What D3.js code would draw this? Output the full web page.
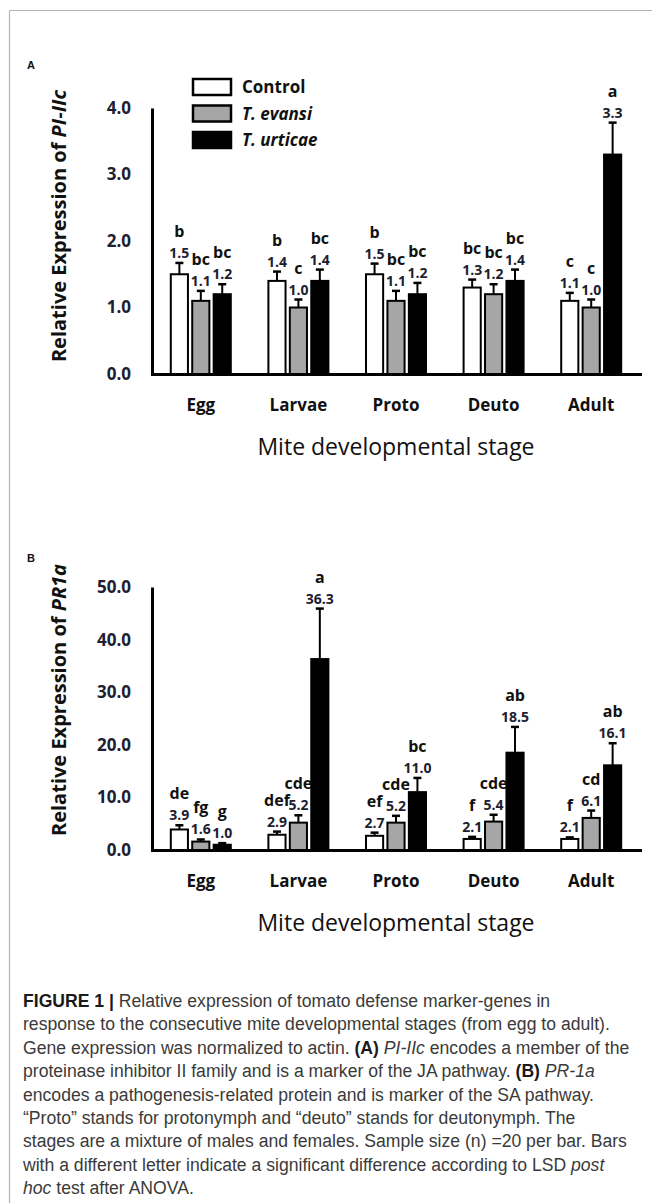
<!DOCTYPE html>
<html>
<head>
<meta charset="utf-8">
<script src="https://cdn.jsdelivr.net/npm/d3@7"></script>
<style>
  body { margin: 0; background: #fff; }
  svg { display: block; }
</style>
</head>
<body>
<svg id="fig" width="652" height="1203"></svg>
<script>
// categories + series
const stages = ["Egg", "Larvae", "Proto", "Deuto", "Adult"];
const treatments = ["Control", "T. evansi", "T. urticae"];
const treatmentFill = ["#ffffff", "#a6a6a6", "#000000"];

// panel A : PI-IIc
const piControl = [1.5, 1.4, 1.5, 1.3, 1.1];
const piEvansi  = [1.1, 1.0, 1.1, 1.2, 1.0];
const piUrticae = [1.2, 1.4, 1.2, 1.4, 3.3];
const piControlErr = [0.17, 0.14, 0.16, 0.12, 0.12];
const piEvansiErr  = [0.15, 0.12, 0.15, 0.15, 0.12];
const piUrticaeErr = [0.15, 0.17, 0.17, 0.17, 0.48];
const piControlLetters = ["b", "b", "b", "bc", "c"];
const piEvansiLetters  = ["bc", "c", "bc", "bc", "c"];
const piUrticaeLetters = ["bc", "bc", "bc", "bc", "a"];
const piTicks = [0, 1, 2, 3, 4];

// panel B : PR1a
const prControl = [3.9, 2.9, 2.7, 2.1, 2.1];
const prEvansi  = [1.6, 5.2, 5.2, 5.4, 6.1];
const prUrticae = [1.0, 36.3, 11.0, 18.5, 16.1];
const prControlErr = [0.8, 0.6, 0.6, 0.4, 0.3];
const prEvansiErr  = [0.4, 1.4, 1.3, 1.3, 1.4];
const prUrticaeErr = [0.3, 9.6, 2.7, 4.9, 4.2];
const prControlLetters = ["de", "def", "ef", "f", "f"];
const prEvansiLetters  = ["fg", "cde", "cde", "cde", "cd"];
const prUrticaeLetters = ["g", "a", "bc", "ab", "ab"];
const prTicks = [0, 10, 20, 30, 40, 50];

const captionLines = [
  [["FIGURE 1 | ", "b"], ["Relative expression of tomato defense marker-genes in", ""]],
  [["response to the consecutive mite developmental stages (from egg to adult).", ""]],
  [["Gene expression was normalized to actin. ", ""], ["(A) ", "b"], ["PI-IIc", "i"], [" encodes a member of the", ""]],
  [["proteinase inhibitor II family and is a marker of the JA pathway. ", ""], ["(B) ", "b"], ["PR-1a", "i"]],
  [["encodes a pathogenesis-related protein and is marker of the SA pathway.", ""]],
  [["\u201cProto\u201d stands for protonymph and \u201cdeuto\u201d stands for deutonymph. The", ""]],
  [["stages are a mixture of males and females. Sample size (n) =20 per bar. Bars", ""]],
  [["with a different letter indicate a significant difference according to LSD ", ""], ["post", "i"]],
  [["hoc", "i"], [" test after ANOVA.", ""]]
];

const chartFont = "'Open Sans', 'DejaVu Sans', sans-serif";
const svg = d3.select("#fig");

// grey frame
svg.append("line").attr("x1", 9.5).attr("x2", 652).attr("y1", 10.5).attr("y2", 10.5)
  .attr("stroke", "#b4b4b4").attr("stroke-width", 1.2);
svg.append("line").attr("x1", 9.5).attr("x2", 9.5).attr("y1", 10.5).attr("y2", 1203)
  .attr("stroke", "#b4b4b4").attr("stroke-width", 1.2);

function drawPanel(cfg) {
  const g = svg.append("g").style("font-family", chartFont);
  const x = d3.scaleBand().domain(stages).range([152, 640]);
  const inner = d3.scaleBand().domain(treatments).range([0, 60]).paddingInner(0.2);
  const off = (x.bandwidth() - 60) / 2;
  const y = d3.scaleLinear().domain(cfg.domain).range([cfg.base, cfg.top]);

  const rows = [];
  stages.forEach((s, i) => {
    treatments.forEach((t, j) => {
      rows.push({ stage: s, tr: t, k: j, v: cfg.vals[j][i], e: cfg.errs[j][i], l: cfg.lets[j][i] });
    });
  });
  const bx = d => x(d.stage) + off + inner(d.tr);
  const bw = inner.bandwidth();

  // error bars
  g.selectAll("line.err").data(rows).join("line").attr("class", "err")
    .attr("x1", d => bx(d) + bw / 2).attr("x2", d => bx(d) + bw / 2)
    .attr("y1", d => y(d.v)).attr("y2", d => y(d.v + d.e))
    .attr("stroke", "#000").attr("stroke-width", 2);
  g.selectAll("line.cap").data(rows).join("line").attr("class", "cap")
    .attr("x1", d => bx(d) + bw / 2 - 4).attr("x2", d => bx(d) + bw / 2 + 4)
    .attr("y1", d => y(d.v + d.e)).attr("y2", d => y(d.v + d.e))
    .attr("stroke", "#000").attr("stroke-width", 2.5);

  // bars
  g.selectAll("rect.bar").data(rows).join("rect").attr("class", "bar")
    .attr("x", d => bx(d)).attr("width", bw)
    .attr("y", d => y(d.v)).attr("height", d => y(0) - y(d.v))
    .attr("fill", d => treatmentFill[d.k]).attr("stroke", "#000").attr("stroke-width", 2);

  // value and letter labels
  g.selectAll("text.val").data(rows).join("text").attr("class", "val")
    .attr("x", d => bx(d) + bw / 2).attr("y", d => y(d.v + d.e) - 5)
    .attr("text-anchor", "middle").attr("font-size", 14).attr("font-weight", 700)
    .attr("fill", "#1c2030").text(d => d3.format(".1f")(d.v));
  g.selectAll("text.let").data(rows).join("text").attr("class", "let")
    .attr("x", d => bx(d) + bw / 2).attr("y", d => y(d.v + d.e) - 26)
    .attr("text-anchor", "middle").attr("font-size", 16).attr("font-weight", 700)
    .attr("fill", "#111").text(d => d.l);

  // axes
  const ya = g.append("g").attr("transform", "translate(152,0)")
    .call(d3.axisLeft(y).tickValues(cfg.ticks).tickSize(0).tickPadding(21).tickFormat(d3.format(".1f")));
  ya.select(".domain").attr("stroke-width", 3);
  ya.selectAll("text").attr("font-size", 17).attr("font-weight", 700).attr("fill", "#1c2030")
    .style("font-family", chartFont);
  const xa = g.append("g").attr("transform", `translate(0,${cfg.base})`)
    .call(d3.axisBottom(x).tickSize(0).tickPadding(25));
  xa.select(".domain").attr("stroke-width", 3).attr("stroke-linecap", "square");
  xa.selectAll("text").attr("font-size", 17).attr("font-weight", 700).attr("fill", "#111")
    .style("font-family", chartFont);

  // axis titles
  g.append("text").attr("x", 396).attr("y", cfg.base + 81)
    .attr("text-anchor", "middle").attr("font-size", 23).attr("fill", "#111")
    .text("Mite developmental stage");
  const yt = g.append("text")
    .attr("transform", `translate(66,${cfg.titleY}) rotate(-90)`)
    .attr("text-anchor", "middle").attr("font-size", 20).attr("font-weight", 700).attr("fill", "#111");
  yt.append("tspan").text("Relative Expression of ");
  yt.append("tspan").attr("font-style", "italic").text(cfg.gene);

  // panel letter
  g.append("text").attr("x", 27).attr("y", cfg.letterY).attr("font-size", 11)
    .attr("font-weight", 700).attr("fill", "#111").style("font-family", "'Liberation Sans', Arial, sans-serif")
    .text(cfg.letter);
  return { g, x, y };
}

const pA = drawPanel({
  domain: [0, 4], base: 374, top: 108, ticks: piTicks,
  vals: [piControl, piEvansi, piUrticae], errs: [piControlErr, piEvansiErr, piUrticaeErr],
  lets: [piControlLetters, piEvansiLetters, piUrticaeLetters],
  gene: "PI-IIc", titleY: 226, letter: "A", letterY: 69
});
drawPanel({
  domain: [0, 50], base: 850, top: 587, ticks: prTicks,
  vals: [prControl, prEvansi, prUrticae], errs: [prControlErr, prEvansiErr, prUrticaeErr],
  lets: [prControlLetters, prEvansiLetters, prUrticaeLetters],
  gene: "PR1a", titleY: 700, letter: "B", letterY: 562
});

// legend (panel A)
const leg = pA.g.append("g").attr("transform", "translate(193,79)");
treatments.forEach((t, i) => {
  leg.append("rect").attr("x", 0).attr("y", i * 26.5).attr("width", 38).attr("height", 16)
    .attr("fill", treatmentFill[i]).attr("stroke", "#000").attr("stroke-width", 2.5);
  leg.append("text").attr("x", 49).attr("y", i * 26.5 + 14)
    .attr("font-size", 17).attr("font-weight", 700).attr("fill", "#111")
    .attr("font-style", i === 0 ? "normal" : "italic").text(t);
});

// caption
const cap = svg.append("g").style("font-family", "'Liberation Sans', Arial, sans-serif")
  .attr("font-size", 17.6).attr("fill", "#3a3a3a");
captionLines.forEach((line, i) => {
  const t = cap.append("text").attr("x", 23).attr("y", 1007 + i * 23.4);
  line.forEach(([s, st]) => {
    const sp = t.append("tspan").text(s);
    if (st === "b") sp.attr("font-weight", 700).attr("fill", "#1a1a1a");
    if (st === "i") sp.attr("font-style", "italic");
  });
});
</script>
</body>
</html>
